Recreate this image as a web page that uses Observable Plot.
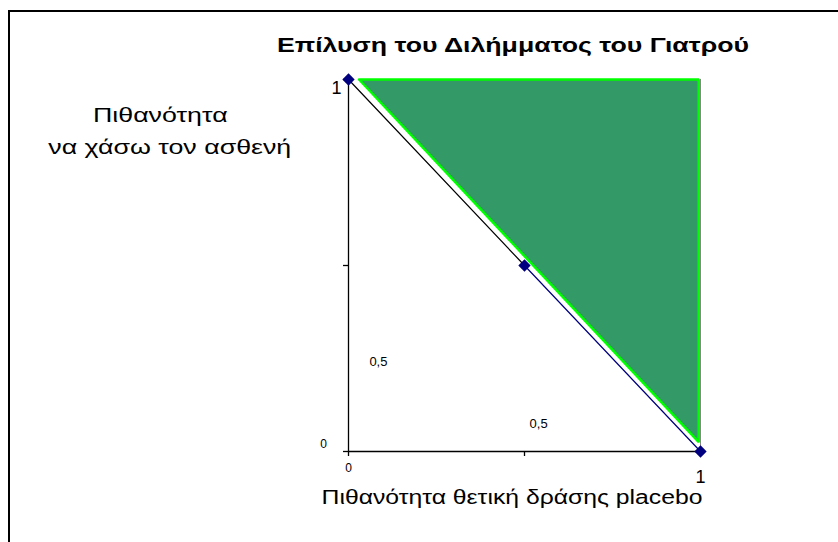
<!DOCTYPE html>
<html>
<head>
<meta charset="utf-8">
<script src="https://cdn.jsdelivr.net/npm/d3@7"></script>
<script src="https://cdn.jsdelivr.net/npm/@observablehq/plot@0.6"></script>
<style>
  html, body { margin: 0; padding: 0; background: #fff; overflow: hidden; }
  body { width: 838px; height: 542px; position: relative; font-family: "Liberation Sans", Arial, sans-serif; }
  #frame { position: absolute; left: 8px; top: 10px; width: 840px; height: 540px; border-left: 2px solid #000; border-top: 2px solid #000; box-sizing: border-box; }
  #chart { position: absolute; left: 0; top: 0; }
  .lab { position: absolute; white-space: nowrap; color: #000; line-height: 1; transform-origin: center center; }
  .title { font-weight: bold; font-size: 20px; }
  .ylab { font-size: 20px; }
  .xlab { font-size: 20px; }
</style>
</head>
<body>
<div id="frame"></div>
<div id="chart"></div>
<script>
// ---- data ----
const titleText = "Επίλυση του Διλήμματος του Γιατρού";
const yLabelLines = ["Πιθανότητα", "να χάσω τον ασθενή"];
const xLabelText = "Πιθανότητα θετική δράσης placebo";

// decision line points
const pointX = [0, 0.5, 1];
const pointY = [1, 0.5, 0];

// shaded region (green triangle)
const regionX = [0.03, 0.995, 0.995];
const regionY = [1, 1, 0.025];

// axis ticks and tick labels
const tickValues = [0, 0.5, 1];
const xTickLow = [{v: 0, t: "0"}];
const xTickHigh = [{v: 1, t: "1"}];
const yTickLow = [{v: 0, t: "0"}];
const yTickHigh = [{v: 1, t: "1"}];

// annotations
const noteX = [0.085, 0.54];
const noteY = [0.24, 0.075];
const noteText = ["0,5", "0,5"];

// ---- build ----
const pts = pointX.map((x, i) => ({x, y: pointY[i]}));
const region = regionX.map((x, i) => ({x, y: regionY[i]}));
const closedRegion = [...region, region[0]];
const seg1 = pts.slice(0, 2);
const seg2 = pts.slice(1, 3);
const notes = noteX.map((x, i) => ({x, y: noteY[i], t: noteText[i]}));

const chart = Plot.plot({
  width: 838,
  height: 542,
  marginLeft: 348,
  marginRight: 138,
  marginTop: 79,
  marginBottom: 91,
  style: {fontFamily: "Liberation Sans, Arial, sans-serif", background: "transparent"},
  x: {domain: [0, 1]},
  y: {domain: [0, 1]},
  marks: [
    Plot.line(closedRegion, {x: "x", y: "y", fill: "#339966", stroke: "#00ff00", strokeWidth: 2.5, strokeLinejoin: "miter"}),
    Plot.ruleX([1], {stroke: "#888888", strokeWidth: 1}),
    // axes
    Plot.axisX({ticks: tickValues, tickSize: 5, tickFormat: () => "", stroke: "#000", strokeWidth: 1.3, label: null}),
    Plot.axisY({ticks: tickValues, tickSize: 5, tickFormat: () => "", stroke: "#000", strokeWidth: 1.3, label: null}),
    Plot.ruleX([0], {stroke: "#000", strokeWidth: 1.3}),
    Plot.ruleY([0], {stroke: "#000", strokeWidth: 1.3}),
    // lines
    Plot.line(seg1, {x: "x", y: "y", stroke: "#000000", strokeWidth: 1.2}),
    Plot.line(seg2, {x: "x", y: "y", stroke: "#000080", strokeWidth: 1.2}),
    Plot.dot(pts, {x: "x", y: "y", symbol: "diamond2", r: 4.6, fill: "#000080", stroke: "#000080"}),
    // tick labels
    Plot.text(xTickLow, {x: "v", y: () => 0, text: "t", dy: 17, fontSize: 12, fill: "#000"}),
    Plot.text(xTickHigh, {x: "v", y: () => 0, text: "t", dy: 26, fontSize: 18, fill: "#000"}),
    Plot.text(yTickLow, {x: () => 0, y: "v", text: "t", dx: -25, dy: -7, fontSize: 12, fill: "#000"}),
    Plot.text(yTickHigh, {x: () => 0, y: "v", text: "t", dx: -12, dy: 9, fontSize: 18, fill: "#000"}),
    // notes
    Plot.text(notes, {x: "x", y: "y", text: "t", fontSize: 13, fill: "#000"})
  ]
});
document.getElementById("chart").appendChild(chart);

// HTML labels, horizontally stretched to match the reference widths
function addLabel(text, cls, cx, cy, targetW, scale) {
  const el = document.createElement("div");
  el.className = "lab " + cls;
  el.textContent = text;
  document.body.appendChild(el);
  const r = el.getBoundingClientRect();
  const s = scale || (targetW ? targetW / r.width : 1);
  el.style.left = (cx - r.width / 2) + "px";
  el.style.top = (cy - r.height / 2) + "px";
  el.style.transform = `scaleX(${s})`;
  return s;
}
addLabel(titleText, "title", 513, 45, 472);
const s2 = addLabel(yLabelLines[1], "ylab", 170, 147, 243);
addLabel(yLabelLines[0], "ylab", 160, 115, null, s2);
addLabel(xLabelText, "xlab", 512, 497, 381);
</script>
</body>
</html>
